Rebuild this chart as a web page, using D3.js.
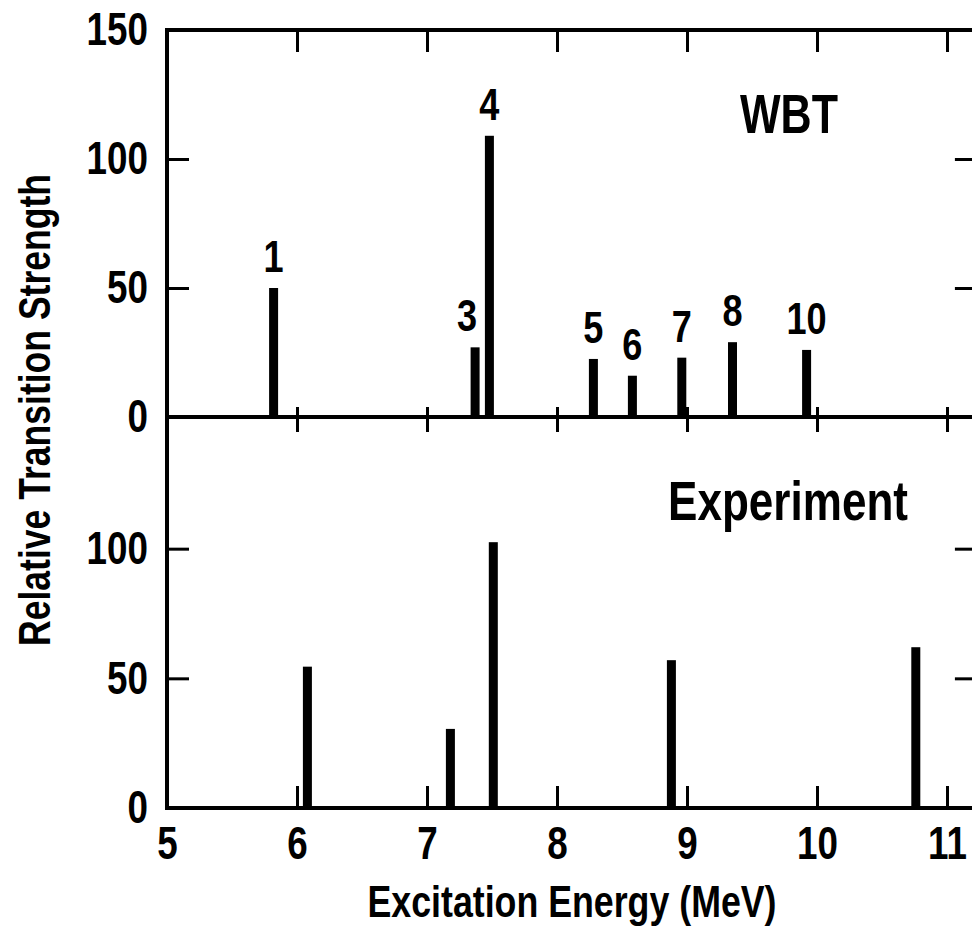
<!DOCTYPE html>
<html>
<head>
<meta charset="utf-8">
<script src="https://cdn.jsdelivr.net/npm/d3@7"></script>
<style>
  body { margin: 0; background: #fff; }
  text { font-family: "Liberation Sans Narrow", "Liberation Sans", Arial, sans-serif; font-weight: bold; fill: #000; }
</style>
</head>
<body>
<div id="chart"></div>
<script>
// WBT calculation: energy (MeV), strength, state number
const wbtEnergy = [5.82, 7.37, 7.48, 8.28, 8.58, 8.96, 9.35, 9.92];
const wbtStrength = [50, 27, 109, 22.5, 16, 23, 29, 26];
const wbtLabels = ["1", "3", "4", "5", "6", "7", "8", "10"];

// Experiment
const expEnergy = [6.08, 7.18, 7.51, 8.88, 10.76];
const expStrength = [54.5, 30.5, 102.5, 57, 62];

const xTicks = [5, 6, 7, 8, 9, 10, 11];
const yTicksTop = [0, 50, 100, 150];
const yTicksBottom = [0, 50, 100];

const W = 972, H = 931;
const svg = d3.select("#chart").append("svg")
    .attr("width", W)
    .attr("height", H);

// scales
const x = d3.scaleLinear().domain([5, 11]).range([167, 947]);
const xMax = 11.23;
const yTop = d3.scaleLinear().domain([0, 150]).range([417, 30]);
const yBot = d3.scaleLinear().domain([0, 150]).range([808, 419]);

const barW = 9;

// squeeze text horizontally - the original uses a condensed face
function condense(sel, f) {
    sel.each(function() {
        const w = this.getComputedTextLength();
        d3.select(this)
            .attr("textLength", w * f)
            .attr("lengthAdjust", "spacingAndGlyphs");
    });
}
function fitWidth(sel, w) {
    sel.attr("textLength", w).attr("lengthAdjust", "spacingAndGlyphs");
}

// bars
svg.append("g").selectAll("rect")
    .data(wbtEnergy.map((e, i) => ({ e: e, v: wbtStrength[i] })))
    .join("rect")
    .attr("x", d => x(d.e) - barW / 2)
    .attr("y", d => yTop(d.v))
    .attr("width", barW)
    .attr("height", d => yTop(0) - yTop(d.v))
    .attr("fill", "#000");

svg.append("g").selectAll("rect")
    .data(expEnergy.map((e, i) => ({ e: e, v: expStrength[i] })))
    .join("rect")
    .attr("x", d => x(d.e) - barW / 2)
    .attr("y", d => yBot(d.v))
    .attr("width", barW)
    .attr("height", d => yBot(0) - yBot(d.v))
    .attr("fill", "#000");

// state numbers above the WBT bars ("3" sits a bit left so it clears bar 4)
const labelShift = { "3": -8 };
svg.append("g").selectAll("text")
    .data(wbtEnergy.map((e, i) => ({ e: e, v: wbtStrength[i], label: wbtLabels[i] })))
    .join("text")
    .attr("x", d => x(d.e) + (labelShift[d.label] || 0))
    .attr("y", d => yTop(d.v) - 16)
    .attr("text-anchor", "middle")
    .style("font-size", "44px")
    .text(d => d.label)
    .call(condense, 0.82);

// frame
const frame = svg.append("g")
    .attr("fill", "none")
    .attr("stroke", "#000")
    .attr("stroke-width", 4);
frame.append("rect")
    .attr("x", x(5))
    .attr("y", yTop(150))
    .attr("width", x(xMax) - x(5))
    .attr("height", yBot(0) - yTop(150));
frame.append("line")
    .attr("x1", x(5)).attr("x2", x(xMax))
    .attr("y1", yTop(0)).attr("y2", yTop(0));

function styleAxis(g) {
    g.select(".domain").remove();
    g.selectAll(".tick line").attr("stroke", "#000").attr("stroke-width", 3);
    g.selectAll(".tick text")
        .attr("fill", "#000")
        .attr("font-family", null)
        .attr("font-size", null)
        .style("font-size", "46px")
        .call(condense, 0.8);
}

const inner = xTicks.filter(t => t > 5);
const fmt = d3.format("d");

// top border ticks
svg.append("g")
    .attr("transform", `translate(0,${yTop(150)})`)
    .call(d3.axisTop(x).tickValues(inner).tickSize(-22).tickFormat(""))
    .call(styleAxis);

// middle line ticks (cross both ways)
svg.append("g")
    .attr("transform", `translate(0,${yTop(0)})`)
    .call(d3.axisTop(x).tickValues(inner).tickSize(10).tickFormat(""))
    .call(styleAxis);
svg.append("g")
    .attr("transform", `translate(0,${yTop(0)})`)
    .call(d3.axisBottom(x).tickValues(inner).tickSize(15).tickFormat(""))
    .call(styleAxis);

// bottom axis with labels
svg.append("g")
    .attr("transform", `translate(0,${yBot(0)})`)
    .call(d3.axisBottom(x).tickValues(xTicks).tickSize(-22).tickPadding(18).tickFormat(fmt))
    .call(styleAxis);

// left axes
svg.append("g")
    .attr("transform", `translate(${x(5)},0)`)
    .call(d3.axisLeft(yTop).tickValues(yTicksTop).tickSize(-22).tickPadding(19).tickFormat(fmt))
    .call(styleAxis);
svg.append("g")
    .attr("transform", `translate(${x(5)},0)`)
    .call(d3.axisLeft(yBot).tickValues(yTicksBottom).tickSize(-22).tickPadding(19).tickFormat(fmt))
    .call(styleAxis);

// right axes
svg.append("g")
    .attr("transform", `translate(${x(xMax)},0)`)
    .call(d3.axisRight(yTop).tickValues([50, 100]).tickSize(-22).tickFormat(""))
    .call(styleAxis);
svg.append("g")
    .attr("transform", `translate(${x(xMax)},0)`)
    .call(d3.axisRight(yBot).tickValues([50, 100]).tickSize(-22).tickFormat(""))
    .call(styleAxis);

// panel titles
svg.append("text")
    .attr("x", 740).attr("y", 133)
    .style("font-size", "55px")
    .text("WBT")
    .call(fitWidth, 98);
svg.append("text")
    .attr("x", 668).attr("y", 520)
    .style("font-size", "55px")
    .text("Experiment")
    .call(fitWidth, 240);

// axis titles
svg.append("text")
    .attr("x", 572).attr("y", 917)
    .attr("text-anchor", "middle")
    .style("font-size", "44px")
    .text("Excitation Energy (MeV)")
    .call(fitWidth, 409);
svg.append("text")
    .attr("transform", "translate(50,410) rotate(-90)")
    .attr("text-anchor", "middle")
    .style("font-size", "44px")
    .text("Relative Transition Strength")
    .call(fitWidth, 472);
</script>
</body>
</html>
